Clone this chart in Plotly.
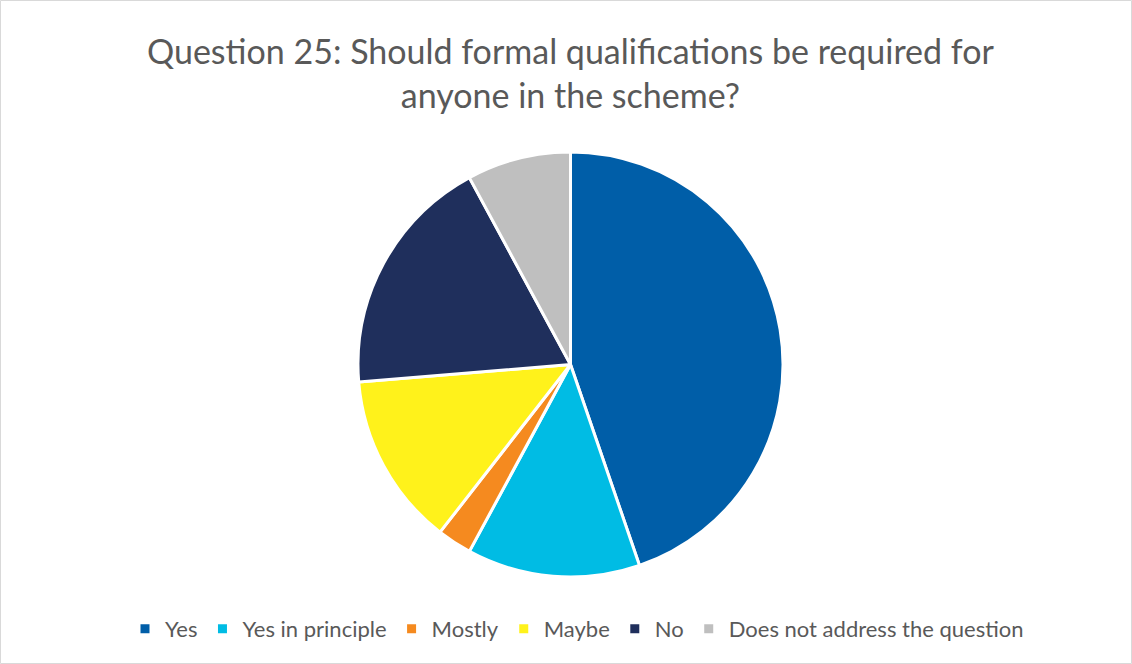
import plotly.graph_objects as go

# Survey responses to question 25
categories = ["Yes", "Yes in principle", "Mostly", "Maybe", "No", "Does not address the question"]
responses = [17, 5, 1, 5, 7, 3]
slice_colors = ["#005EA8", "#00BCE4", "#F58A1F", "#FFF21B", "#1F2F5C", "#BFBFBF"]

W, H = 1132, 664
cx, cy, r = 570.5, 364.5, 212.5

fig = go.Figure(
    go.Pie(
        labels=categories,
        values=responses,
        sort=False,
        direction="clockwise",
        rotation=0,
        marker=dict(colors=slice_colors, line=dict(color="white", width=3)),
        textinfo="none",
        hoverinfo="label+value+percent",
        domain=dict(
            x=[(cx - r) / W, (cx + r) / W],
            y=[1 - (cy + r) / H, 1 - (cy - r) / H],
        ),
    )
)

fig.update_layout(
    width=W,
    height=H,
    margin=dict(l=0, r=0, t=0, b=0),
    paper_bgcolor="white",
    font=dict(family="Lato", color="#595959"),
    showlegend=True,
    legend=dict(
        orientation="h",
        x=577 / W,
        xanchor="center",
        y=1 - 629 / H,
        yanchor="middle",
        font=dict(size=22, color="#595959"),
        itemclick=False,
    ),
    annotations=[
        dict(
            text="Question 25: Should formal qualifications be required for<br>anyone in the scheme?",
            x=570 / W,
            y=1 - 72 / H,
            xref="paper",
            yref="paper",
            xanchor="center",
            yanchor="middle",
            showarrow=False,
            font=dict(size=34, color="#595959", family="Lato"),
        )
    ],
    shapes=[
        dict(
            type="rect",
            xref="paper",
            yref="paper",
            x0=0.5 / W,
            x1=1 - 0.5 / W,
            y0=0.5 / H,
            y1=1 - 0.5 / H,
            line=dict(color="#D9D9D9", width=1),
        )
    ],
)

fig.write_html("out.html")
